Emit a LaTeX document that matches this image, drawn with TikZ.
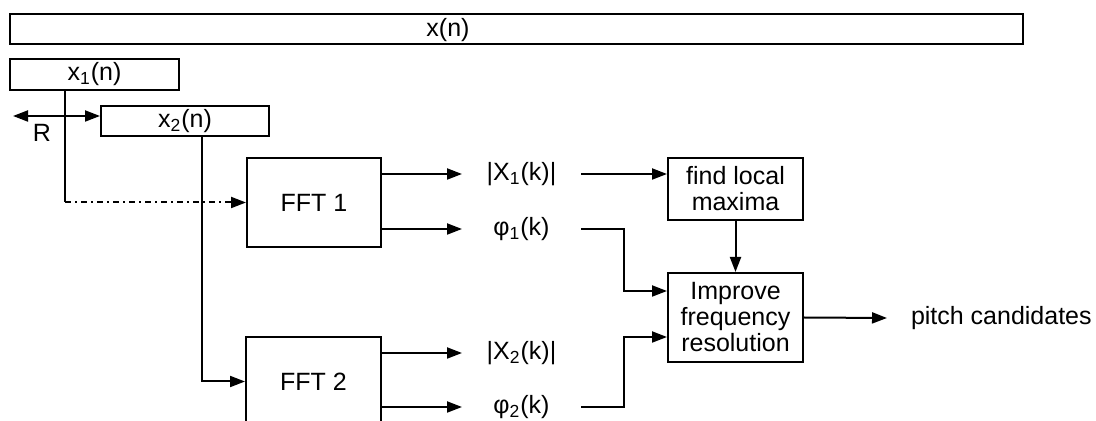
\documentclass[tikz,border=0pt]{standalone}
\usepackage{fontspec}
\setmainfont{Liberation Sans}
\usetikzlibrary{arrows.meta, calc}

\begin{document}
\begin{tikzpicture}[
    x=0.5pt, y=-0.5pt,
    >={Triangle[length=7.5pt,width=5.5pt]},
    line width=1pt,
    every node/.style={font=\fontsize{12.5}{13}\selectfont},
    block/.style={draw, inner sep=0pt, align=center},
    sig/.style={inner sep=0pt, minimum width=58.5pt},
]
\useasboundingbox (0,0) rectangle (1096,421);
\clip (0,0) rectangle (1096,421);
% signal frames
\node[block, minimum width=506.5pt, minimum height=15pt] (xn) at (516.5,29) {};
\node (xnlab) at (448,30) {x(n)};
\node[block, minimum width=84.5pt, minimum height=15.5pt] (x1) at (94.5,74.5) {x\textsubscript{1}(n)};
\node[block, minimum width=84pt, minimum height=15pt] (x2) at (185,121) {x\textsubscript{2}(n)};
% hop size R
\coordinate (rend) at (13,116);
\draw[<->] (rend) -- (rend -| x2.west);
\node (rlab) at (42,133) {R};
% transforms
\node[block, minimum width=67pt, minimum height=44.5pt] (fft1) at (314,202.5) {FFT 1};
\node[block, minimum width=67.5pt, minimum height=44.5pt] (fft2) at (313.5,381.5) {FFT 2};
\coordinate (tap1) at ($(x1.south)+(-29.5,0)$);
\coordinate (bend1) at (tap1 |- fft1.west);
\draw (tap1) -- (bend1);
\draw[->, dash dot] (bend1) -- (fft1.west);
\draw[->] ($(x2.south)+(17,0)$) |- (fft2.west);
% spectra
\node[sig] (mag1) at (521.5,174) {|X\textsubscript{1}(k)|};
\node[sig] (ph1) at (521.5,229) {φ\textsubscript{1}(k)};
\node[sig] (mag2) at (521.5,353) {|X\textsubscript{2}(k)|};
\node[sig] (ph2) at (521.5,407) {φ\textsubscript{2}(k)};
\draw[->] (fft1.east |- mag1) -- (mag1.west);
\draw[->] (fft1.east |- ph1) -- (ph1.west);
\draw[->] (fft2.east |- mag2) -- (mag2.west);
\draw[->] (fft2.east |- ph2) -- (ph2.west);
% peak picking and refinement
\node[block, minimum width=67.5pt, minimum height=31pt] (find) at (735.5,189) {find local\\maxima};
\node[block, minimum width=67.5pt, minimum height=44.5pt] (impr) at (735.5,317.5) {Improve\\frequency\\resolution};
\draw[->] (mag1.east) -- (mag1 -| find.west);
\draw[->] (find.south) -- (impr.north);
\draw[->] (ph1.east) -- ++(43,0) |- ($(impr.west)+(0,-26.5)$);
\draw[->] (ph2.east) -- ++(43,0) |- ($(impr.west)+(0,19.5)$);
\node[anchor=west, inner xsep=11.5pt, inner ysep=0pt] (pitch) at (887,318) {pitch candidates};
\draw[->] (impr.east) -- (pitch.west);
\end{tikzpicture}
\end{document}
